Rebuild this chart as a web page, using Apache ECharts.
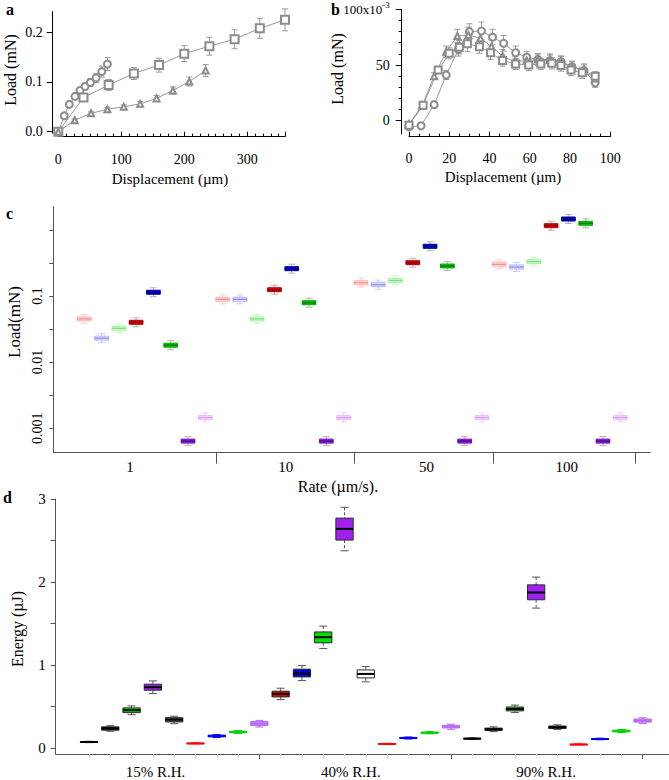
<!DOCTYPE html>
<html><head><meta charset="utf-8">
<script src="https://cdn.jsdelivr.net/npm/echarts@6/dist/echarts.min.js"></script>
<style>html,body{margin:0;padding:0;background:#fff}#c{width:669px;height:780px}</style>
</head><body><div id="c"></div>
<script>
// ---------- Panel a data ----------
const aCircleX = [0, 9.5, 17.5, 26.5, 34.5, 42.5, 51, 60, 69, 78];
const aCircleY = [0, 0.032, 0.055, 0.071, 0.083, 0.091, 0.099, 0.108, 0.121, 0.136];
const aCircleErr = [0.002, 0.003, 0.004, 0.005, 0.006, 0.007, 0.008, 0.009, 0.011, 0.013];
const aSquareX = [0, 40, 80, 120, 160, 200, 240, 280, 320, 360];
const aSquareY = [0, 0.069, 0.094, 0.117, 0.134, 0.157, 0.172, 0.186, 0.208, 0.225];
const aSquareErr = [0.002, 0.005, 0.011, 0.012, 0.014, 0.016, 0.018, 0.019, 0.02, 0.022];
const aTriX = [0, 26, 52, 78, 104, 130, 156, 182, 208, 234];
const aTriY = [0, 0.023, 0.037, 0.045, 0.05, 0.056, 0.067, 0.083, 0.101, 0.123];
const aTriErr = [0.002, 0.003, 0.003, 0.004, 0.004, 0.005, 0.006, 0.007, 0.009, 0.012];
const aXTicks = [0, 100, 200, 300];
const aYTicks = [0, 0.1, 0.2];

// ---------- Panel b data (x10^-3 mN) ----------
const bCircleX = [0, 6, 12.5, 18.5, 24.5, 30, 36, 41.5, 47, 53, 58.5, 64, 70, 75.5, 81, 87, 92.5];
const bCircleY = [-5.5, -4.5, 14.5, 41, 64, 80, 80.5, 75, 69.5, 61, 57, 55, 54, 53, 48.5, 45, 34];
const bCircleErr = [2, 2, 3, 4, 6, 7, 8, 7, 7, 6, 5, 5, 5, 5, 5, 5, 4];
const bTriX = [0, 6.5, 12.5, 18.5, 24, 29.5, 35.5, 41, 46.5, 52.5, 58.5, 64, 70, 75.5, 81, 87, 92.5];
const bTriY = [-3, 13.5, 40, 62, 76, 77, 74, 66.5, 58, 53, 54, 55, 55, 53, 48, 46, 38];
const bTriErr = [2, 2, 3, 5, 6, 7, 7, 6, 6, 5, 5, 5, 5, 5, 5, 5, 4];
const bSqX = [0, 7, 14.5, 20, 25, 29, 35, 40.5, 46.5, 53, 59.5, 65.5, 71, 75.5, 80.5, 86, 92.5];
const bSqY = [-4, 14, 45.5, 60.5, 66, 69, 66.5, 61, 54, 51, 50, 51, 51.5, 49.5, 45.5, 43, 40];
const bSqErr = [2, 2, 3, 5, 6, 7, 6, 6, 5, 5, 5, 5, 5, 5, 5, 5, 4];
const bXTicks = [0, 20, 40, 60, 80, 100];
const bYTicks = [0, 50, 100];

// ---------- Panel c data: [min, Q1, median, Q3, max] in mN, one per rate ----------
const cRates = ['1', '10', '50', '100'];
const cPink = [[0.0385,0.042,0.045,0.0482,0.0527],[0.0761,0.083,0.089,0.0954,0.104],[0.136,0.148,0.159,0.170,0.186],[0.257,0.281,0.301,0.323,0.352]];
const cLightBlue = [[0.0197,0.0215,0.023,0.0247,0.0269],[0.0761,0.083,0.089,0.0954,0.104],[0.126,0.138,0.148,0.159,0.173],[0.234,0.256,0.274,0.294,0.321]];
const cLightGreen = [[0.0278,0.0303,0.0325,0.0348,0.038],[0.0385,0.042,0.045,0.0482,0.0527],[0.147,0.160,0.172,0.184,0.201],[0.282,0.308,0.33,0.354,0.386]];
const cRed = [[0.0342,0.0373,0.040,0.0429,0.0468],[0.106,0.116,0.124,0.133,0.145],[0.272,0.297,0.318,0.341,0.372],[0.985,1.076,1.153,1.236,1.349]];
const cBlue = [[0.0974,0.106,0.114,0.122,0.133],[0.221,0.241,0.258,0.277,0.302],[0.481,0.525,0.563,0.604,0.659],[1.244,1.357,1.455,1.56,1.702]];
const cGreen = [[0.0154,0.0168,0.018,0.0193,0.0211],[0.0675,0.0737,0.079,0.0847,0.0924],[0.243,0.265,0.284,0.304,0.332],[1.072,1.17,1.254,1.344,1.467]];
const cPurple = [[0.000547,0.000597,0.00064,0.000686,0.000749],[0.000547,0.000597,0.00064,0.000686,0.000749],[0.000547,0.000597,0.00064,0.000686,0.000749],[0.000547,0.000597,0.00064,0.000686,0.000749]];
const cLightPurple = [[0.00124,0.00135,0.00145,0.00155,0.0017],[0.00124,0.00135,0.00145,0.00155,0.0017],[0.00124,0.00135,0.00145,0.00155,0.0017],[0.00124,0.00135,0.00145,0.00155,0.0017]];

// ---------- Panel d data: [min, Q1, median, Q3, max] in µJ ----------
const dGroups = ['15% R.H.', '40% R.H.', '90% R.H.'];
const dRH15 = [[0.068,0.070,0.076,0.082,0.084],[0.205,0.218,0.24,0.258,0.272],[0.405,0.429,0.458,0.486,0.51],[0.658,0.699,0.735,0.771,0.811],[0.296,0.317,0.345,0.369,0.386],[0.055,0.057,0.06,0.063,0.065],[0.13,0.138,0.148,0.158,0.165],[0.18,0.187,0.196,0.205,0.212],[0.256,0.273,0.296,0.322,0.336]];
const dRH40 = [[0.586,0.618,0.654,0.687,0.723],[0.815,0.859,0.90,0.952,0.995],[1.2,1.269,1.337,1.40,1.47],[2.377,2.506,2.64,2.77,2.90],[0.80,0.847,0.895,0.943,0.983],[0.05,0.052,0.055,0.058,0.06],[0.112,0.117,0.124,0.131,0.136],[0.174,0.18,0.188,0.196,0.202],[0.228,0.245,0.26,0.276,0.29]];
const dRH90 = [[0.106,0.11,0.116,0.122,0.126],[0.2,0.215,0.229,0.243,0.258],[0.43,0.45,0.473,0.497,0.52],[1.687,1.787,1.875,1.967,2.06],[0.225,0.238,0.253,0.268,0.283],[0.044,0.046,0.048,0.05,0.052],[0.103,0.107,0.112,0.117,0.121],[0.19,0.198,0.208,0.218,0.226],[0.3,0.315,0.333,0.352,0.368]];
const dYTicks = [0, 1, 2, 3];

// ---------- styles ----------
const F = 'Liberation Serif';
const GRAY = '#8c8c8c';
const dFills = [
  ['#000000','#262626','#00e000','#a020f0','#555555','#ff0000','#0000ff','#00ff00','#c884ff'],
  ['#dd0000','#0000dd','#00e000','#a020f0','#ffffff','#ff0000','#0000ff','#00ff00','#c884ff'],
  ['#000000','#262626','#00d800','#a020f0','#262626','#ff0000','#0000ff','#00ff00','#c884ff']
];
const dThinBorder = {'#ff0000':'#ff0000','#0000ff':'#0000ee','#00ff00':'#00d000','#c884ff':'#b468f0'};
const cStyles = {
  pink:{fill:'#ffeded',border:'#ffb0b0',median:'#ff8888',whisker:'#ffcccc'},
  lightblue:{fill:'#efefff',border:'#b0b0ff',median:'#8888ff',whisker:'#ccccff'},
  lightgreen:{fill:'#edffed',border:'#a0f2a0',median:'#66ea66',whisker:'#c8f5c8'},
  red:{fill:'#dd0000',border:'#b80000',median:'#990000',whisker:'#b4b4b4'},
  blue:{fill:'#0000cc',border:'#0000a8',median:'#000088',whisker:'#b4b4b4'},
  green:{fill:'#00d000',border:'#00aa00',median:'#008800',whisker:'#b4b4b4'},
  purple:{fill:'#8e22dc',border:'#7414c0',median:'#5e0c9e',whisker:'#b4b4b4'},
  lightpurple:{fill:'#f8eaff',border:'#e6b4ff',median:'#dc96ff',whisker:'#efd0ff'}
};

// ---------- helpers ----------
function errData(xs, ys, es){ return xs.map((x,i)=>[x, ys[i]-es[i], ys[i]+es[i]]); }
function pts(xs, ys){ return xs.map((x,i)=>[x, ys[i]]); }
function errRender(params, api){
  const x = api.value(0);
  const p1 = api.coord([x, api.value(2)]), p2 = api.coord([x, api.value(1)]);
  const w = 3, st = {stroke:'#909090', lineWidth:0.9};
  return {type:'group', children:[
    {type:'line', shape:{x1:p1[0],y1:p1[1],x2:p2[0],y2:p2[1]}, style:st},
    {type:'line', shape:{x1:p1[0]-w,y1:p1[1],x2:p1[0]+w,y2:p1[1]}, style:st},
    {type:'line', shape:{x1:p2[0]-w,y1:p2[1],x2:p2[0]+w,y2:p2[1]}, style:st}
  ]};
}
function boxShape(api, st, bw, cw){
  const x = api.value(0);
  const pMin = api.coord([x, api.value(1)]), pQ1 = api.coord([x, api.value(2)]);
  const pMed = api.coord([x, api.value(3)]), pQ3 = api.coord([x, api.value(4)]);
  const pMax = api.coord([x, api.value(5)]);
  const cx = pMed[0];
  const ws = {stroke:st.whisker, lineWidth:1, lineDash:st.dash||null};
  const cs = {stroke:st.whisker, lineWidth:1};
  return {type:'group', children:[
    {type:'line', shape:{x1:cx,y1:pMax[1],x2:cx,y2:pQ3[1]}, style:ws},
    {type:'line', shape:{x1:cx,y1:pQ1[1],x2:cx,y2:pMin[1]}, style:ws},
    {type:'line', shape:{x1:cx-cw/2,y1:pMax[1],x2:cx+cw/2,y2:pMax[1]}, style:cs},
    {type:'line', shape:{x1:cx-cw/2,y1:pMin[1],x2:cx+cw/2,y2:pMin[1]}, style:cs},
    {type:'rect', shape:{x:cx-bw/2,y:pQ3[1],width:bw,height:Math.max(pQ1[1]-pQ3[1],1)}, style:{fill:st.fill, stroke:st.border, lineWidth:1}},
    {type:'line', shape:{x1:cx-bw/2,y1:pMed[1],x2:cx+bw/2,y2:pMed[1]}, style:{stroke:st.median, lineWidth:st.medW||1.6}}
  ]};
}

// panel c series (x = slot, values on log10 axis)
const cOrder = [['pink',cPink],['lightblue',cLightBlue],['lightgreen',cLightGreen],['red',cRed],['blue',cBlue],['green',cGreen],['purple',cPurple],['lightpurple',cLightPurple]];
const cSeries = cOrder.map(([name, arr], k) => {
  const st = Object.assign({medW: (k>=3 && k<=6) ? 1.8 : 1.4}, cStyles[name]);
  return {
    type:'custom', xAxisIndex:4, yAxisIndex:3, encode:{x:0, y:[1,2,3,4,5]},
    data: arr.map((q, g) => [g*8 + k].concat(q.map(v => Math.log10(v)))),
    renderItem: (params, api) => boxShape(api, st, 13.7, 7)
  };
});

// panel d series
const dAll = [dRH15, dRH40, dRH90];
const dData = [];
const dStyleList = [];
dAll.forEach((grp, g) => grp.forEach((q, k) => {
  dData.push([g*9 + k].concat(q));
  const fill = dFills[g][k];
  if (k < 5) dStyleList.push({fill, border:'#2a2a2a', median:'#000', whisker:'#555', dash:[3,2], medW:2});
  else dStyleList.push({fill, border:dThinBorder[fill], median:dThinBorder[fill], whisker:dThinBorder[fill], medW:1.4});
}));

function range(a, b, s, skip){ const r=[]; for(let v=a; v<=b+1e-9; v+=s){ if(!skip || !skip(v)) r.push(+v.toFixed(4)); } return r; }

const lab = (o) => Object.assign({fontFamily:F, color:'#000', fontSize:14}, o);
const line = (c) => ({show:true, onZero:false, lineStyle:{color:c||'#000', width:1}});
const noLine = {show:false, onZero:false};

const option = {
  animation:false,
  backgroundColor:'#fff',
  grid:[
    {left:58.3, top:11.7, width:226.7, height:121.6},
    {left:409, top:9.3, width:201.3, height:124.7},
    {left:53.3, top:206.7, width:596.7, height:246},
    {left:55.7, top:499, width:613.3, height:255}
  ],
  xAxis:[
    {type:'value', gridIndex:0, position:'bottom', offset:3.4, min:0, max:360, axisLine:line(), splitLine:{show:false},
     axisTick:{show:true, inside:true, length:5, customValues:aXTicks.concat([360]), lineStyle:{color:'#000'}},
     axisLabel:lab({customValues:aXTicks, margin:16})},
    {type:'value', gridIndex:0, position:'bottom', offset:3.4, min:0, max:360, axisLine:noLine, splitLine:{show:false},
     axisTick:{show:true, inside:true, length:3, customValues:range(12.5, 350, 12.5, v => v % 100 === 0), lineStyle:{color:'#000'}},
     axisLabel:{show:false}},
    {type:'value', gridIndex:1, position:'bottom', offset:2.7, min:0, max:100, axisLine:line(), splitLine:{show:false},
     axisTick:{show:true, inside:true, length:5, customValues:bXTicks, lineStyle:{color:'#000'}},
     axisLabel:lab({customValues:bXTicks, margin:15})},
    {type:'value', gridIndex:1, position:'bottom', offset:2.7, min:0, max:100, axisLine:noLine, splitLine:{show:false},
     axisTick:{show:true, inside:true, length:3, customValues:range(5, 95, 5, v => v % 20 === 0), lineStyle:{color:'#000'}},
     axisLabel:{show:false}},
    {type:'value', gridIndex:2, position:'bottom', min:-1.79, max:32.72, axisLine:line('#555'), splitLine:{show:false},
     axisTick:{show:true, length:11, customValues:[7.62, 15.62, 23.65, 31.85], lineStyle:{color:'#555'}},
     axisLabel:lab({fontSize:15, margin:7, customValues:[2.64, 11.66, 19.8, 27.9],
       formatter: (v) => cRates[[2.64, 11.66, 19.8, 27.9].findIndex(p => Math.abs(p - v) < 0.01)]})},
    {type:'value', gridIndex:3, position:'bottom', min:-1.564, max:27.24, axisLine:line('#555'), splitLine:{show:false},
     axisTick:{show:true, length:5, customValues:[8, 17, 26], lineStyle:{color:'#555'}},
     axisLabel:lab({fontSize:15, margin:10, customValues:[3.12, 12.3, 21.47],
       formatter: (v) => dGroups[[3.12, 12.3, 21.47].findIndex(p => Math.abs(p - v) < 0.01)]})},
    {type:'value', gridIndex:3, position:'bottom', min:-1.564, max:27.24, axisLine:noLine, splitLine:{show:false},
     axisTick:{show:true, length:4, customValues:range(0, 26, 1, v => v === 8 || v === 17 || v === 26), lineStyle:{color:'#d8d8d8'}},
     axisLabel:{show:false}}
  ],
  yAxis:[
    {type:'value', gridIndex:0, position:'left', offset:5.6, min:-0.0032, max:0.2414, axisLine:line(), splitLine:{show:false},
     axisTick:{show:true, length:6, customValues:aYTicks, lineStyle:{color:'#000'}},
     axisLabel:lab({customValues:aYTicks, margin:10, formatter:(v)=>v.toFixed(1)})},
    {type:'value', gridIndex:1, position:'left', offset:7.3, min:-11.9, max:100, axisLine:line(), splitLine:{show:false},
     axisTick:{show:true, length:6, customValues:bYTicks, lineStyle:{color:'#000'}},
     axisLabel:lab({customValues:bYTicks, margin:12,
       formatter:(v)=> v === 100 ? '{n|100x10}{s|-3}' : String(v),
       rich:{n:{fontFamily:F, fontSize:13, color:'#000'}, s:{fontFamily:F, fontSize:9, color:'#000', verticalAlign:'top', padding:[0,0,9,0]}}})},
    {type:'value', gridIndex:1, position:'left', offset:7.3, min:-11.9, max:100, axisLine:noLine, splitLine:{show:false},
     axisTick:{show:true, length:3, customValues:[10,20,30,40,60,70,80,90], lineStyle:{color:'#000'}},
     axisLabel:{show:false}},
    {type:'value', gridIndex:2, position:'left', min:-3.369, max:0.349, axisLine:line('#555'), splitLine:{show:false},
     axisTick:{show:true, length:4, customValues:[-3,-2.5,-2,-1.5,-1,-0.5,0], lineStyle:{color:'#555'}},
     axisLabel:lab({fontSize:14, rotate:90, margin:9, customValues:[-3,-2,-1],
       formatter:(v)=> Math.pow(10, v).toFixed(-Math.round(v))})},
    {type:'value', gridIndex:3, position:'left', min:-0.0687, max:3, axisLine:line('#555'), splitLine:{show:false},
     axisTick:{show:true, length:5, customValues:[0,0.5,1,1.5,2,2.5,3], lineStyle:{color:'#555'}},
     axisLabel:lab({fontSize:15, margin:10, customValues:dYTicks})}
  ],
  series:[
    {type:'custom', xAxisIndex:0, yAxisIndex:0, encode:{x:0,y:[1,2]}, data:errData(aCircleX,aCircleY,aCircleErr), renderItem:errRender},
    {type:'custom', xAxisIndex:0, yAxisIndex:0, encode:{x:0,y:[1,2]}, data:errData(aSquareX,aSquareY,aSquareErr), renderItem:errRender},
    {type:'custom', xAxisIndex:0, yAxisIndex:0, encode:{x:0,y:[1,2]}, data:errData(aTriX,aTriY,aTriErr), renderItem:errRender},
    {type:'line', xAxisIndex:0, yAxisIndex:0, data:pts(aCircleX,aCircleY), symbol:'emptyCircle', symbolSize:7, lineStyle:{color:GRAY,width:0.9}, itemStyle:{color:GRAY, borderWidth:0.8}, z:5},
    {type:'line', xAxisIndex:0, yAxisIndex:0, data:pts(aSquareX,aSquareY), symbol:'emptyRect', symbolSize:8, lineStyle:{color:GRAY,width:0.9}, itemStyle:{color:GRAY, borderWidth:0.8}, z:5},
    {type:'line', xAxisIndex:0, yAxisIndex:0, data:pts(aTriX,aTriY), symbol:'emptyTriangle', symbolSize:6, lineStyle:{color:GRAY,width:0.9}, itemStyle:{color:GRAY, borderWidth:0.8}, z:5},

    {type:'custom', xAxisIndex:2, yAxisIndex:1, encode:{x:0,y:[1,2]}, data:errData(bCircleX,bCircleY,bCircleErr), renderItem:errRender},
    {type:'custom', xAxisIndex:2, yAxisIndex:1, encode:{x:0,y:[1,2]}, data:errData(bTriX,bTriY,bTriErr), renderItem:errRender},
    {type:'custom', xAxisIndex:2, yAxisIndex:1, encode:{x:0,y:[1,2]}, data:errData(bSqX,bSqY,bSqErr), renderItem:errRender},
    {type:'line', xAxisIndex:2, yAxisIndex:1, data:pts(bCircleX,bCircleY), symbol:'emptyCircle', symbolSize:7, lineStyle:{color:GRAY,width:0.9}, itemStyle:{color:GRAY, borderWidth:0.8}, z:5},
    {type:'line', xAxisIndex:2, yAxisIndex:1, data:pts(bTriX,bTriY), symbol:'emptyTriangle', symbolSize:6, lineStyle:{color:GRAY,width:0.9}, itemStyle:{color:GRAY, borderWidth:0.8}, z:5},
    {type:'line', xAxisIndex:2, yAxisIndex:1, data:pts(bSqX,bSqY), symbol:'emptyRect', symbolSize:7, lineStyle:{color:GRAY,width:0.9}, itemStyle:{color:GRAY, borderWidth:0.8}, z:5},

    ...cSeries,

    {type:'custom', xAxisIndex:5, yAxisIndex:4, encode:{x:0, y:[1,2,3,4,5]}, data:dData,
     renderItem:(params, api) => boxShape(api, dStyleList[params.dataIndex], 17.3, 8)}
  ],
  graphic:[
    {type:'text', x:6, y:9, style:{text:'a', fontFamily:F, fontSize:16, fontWeight:'bold', fill:'#000', align:'left', verticalAlign:'middle'}},
    {type:'text', x:331, y:9, style:{text:'b', fontFamily:F, fontSize:16, fontWeight:'bold', fill:'#000', align:'left', verticalAlign:'middle'}},
    {type:'text', x:6, y:213, style:{text:'c', fontFamily:F, fontSize:16, fontWeight:'bold', fill:'#000', align:'left', verticalAlign:'middle'}},
    {type:'text', x:3, y:497, style:{text:'d', fontFamily:F, fontSize:16, fontWeight:'bold', fill:'#000', align:'left', verticalAlign:'middle'}},
    {type:'text', x:10, y:70, rotation:Math.PI/2, style:{text:'Load (mN)', fontFamily:F, fontSize:16, fill:'#000', align:'center', verticalAlign:'middle'}},
    {type:'text', x:170, y:179, style:{text:'Displacement (µm)', fontFamily:F, fontSize:15, fill:'#000', align:'center', verticalAlign:'middle'}},
    {type:'text', x:337, y:69, rotation:Math.PI/2, style:{text:'Load (mN)', fontFamily:F, fontSize:16, fill:'#000', align:'center', verticalAlign:'middle'}},
    {type:'text', x:503, y:177, style:{text:'Displacement (µm)', fontFamily:F, fontSize:15, fill:'#000', align:'center', verticalAlign:'middle'}},
    {type:'text', x:14, y:322, rotation:Math.PI/2, style:{text:'Load(mN)', fontFamily:F, fontSize:17, fill:'#000', align:'center', verticalAlign:'middle'}},
    {type:'text', x:338, y:486, style:{text:'Rate (µm/s).', fontFamily:F, fontSize:16, fill:'#000', align:'center', verticalAlign:'middle'}},
    {type:'text', x:17, y:629, rotation:Math.PI/2, style:{text:'Energy (µJ)', fontFamily:F, fontSize:16, fill:'#000', align:'center', verticalAlign:'middle'}}
  ]
};

const chart = echarts.init(document.getElementById('c'), null, {renderer:'svg', width:669, height:780});
chart.setOption(option);
</script>
</body></html>
